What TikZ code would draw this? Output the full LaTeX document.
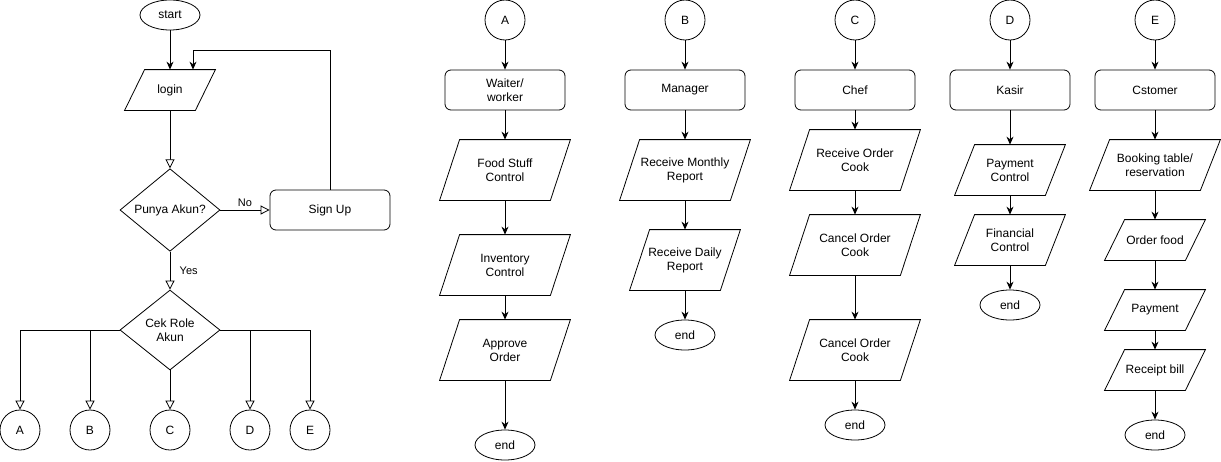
\documentclass[tikz,border=0pt]{standalone}
\usepackage{fontspec}
\setmainfont{Liberation Sans}
\usetikzlibrary{arrows.meta,shapes.geometric}

\begin{document}
\begin{tikzpicture}[x=1pt,y=-1pt,line width=0.8pt,
	font=\fontsize{12}{14}\selectfont,
	term/.style={draw,ellipse,minimum width=60pt,minimum height=30pt,inner sep=0pt},
	conn/.style={draw,circle,minimum size=40pt,inner sep=0pt},
	proc/.style={draw,rounded corners=6pt,minimum width=120pt,minimum height=40pt,inner sep=0pt,align=center},
	dec/.style={draw,diamond,minimum width=100pt,minimum height=80pt,inner sep=0pt,align=center},
	io/.style 2 args={minimum width=#1-20pt,minimum height=#2,inner sep=0pt,align=center,
		append after command={\pgfextra{\draw ([xshift=-10pt]\tikzlastnode.south west)
			-- ([xshift=-10pt]\tikzlastnode.south east) -- ([xshift=10pt]\tikzlastnode.north east)
			-- ([xshift=10pt]\tikzlastnode.north west) -- cycle;}}},
	flow/.style={-{Stealth[length=8pt,width=7pt]}},
	hollow/.style={-{Triangle[open,length=9pt,width=9pt,fill=white]}},
	lbl/.style={font=\fontsize{11}{13}\selectfont}]
	\useasboundingbox (0,0) rectangle (1221,461);

	% login part
	\node (start) [term] at (170,15) {start};
	\node (login) [io={90pt}{40pt}] at (170,90) {login};
	\node (akun) [dec] at (170,210) {Punya Akun?};
	\node (signup) [proc] at (330,210) {Sign Up};
	\node (role) [dec] at (170,330) {Cek Role\\Akun};
	\node (ra) [conn] at (20,430) {A};
	\node (rb) [conn] at (90,430) {B};
	\node (rc) [conn] at (170,430) {C};
	\node (rd) [conn] at (250,430) {D};
	\node (re) [conn] at (310,430) {E};
	\coordinate (back) at (193,50);

	\draw [flow] (start) -- (login);
	\draw [flow] (signup) |- (back) -- (back |- login.north);
	\draw [hollow] (login) -- (akun);
	\draw [hollow] (akun) -- node [lbl,above] {No} (signup);
	\draw [hollow] (akun) -- node [lbl,right,xshift=6pt] {Yes} (role);
	\draw [hollow] (role.west) -| (ra);
	\draw [hollow] (role.west) -| (rb);
	\draw [hollow] (role) -- (rc);
	\draw [hollow] (role.east) -| (rd);
	\draw [hollow] (role.east) -| (re);

	% A
	\node (ha) [conn] at (505,20) {A};
	\node (waiter) [proc] at (505,90) {Waiter/\\worker};
	\node (food) [io={130pt}{60pt}] at (505,170) {Food Stuff\\Control};
	\node (inv) [io={130pt}{60pt}] at (505,265) {Inventory\\Control};
	\node (approve) [io={130pt}{60pt}] at (505,350) {Approve\\Order};
	\node (enda) [term] at (505,445) {end};

	\draw [flow] (ha) -- (waiter);
	\draw [flow] (waiter) -- (food);
	\draw [flow] (food) -- (inv);
	\draw [flow] (inv) -- (approve);
	\draw [flow] (approve) -- (enda);

	% B
	\node (hb) [conn] at (685,20) {B};
	\node (manager) [proc] at (685,90) {Manager};
	\node (monthly) [io={130pt}{60pt}] at (685,170) {Receive Monthly\\Report};
	\node (daily) [io={110pt}{60pt}] at (685,260) {Receive Daily\\Report};
	\node (endb) [term] at (685,335) {end};

	\draw [flow] (hb) -- (manager);
	\draw [flow] (manager) -- (monthly);
	\draw [flow] (monthly) -- (daily);
	\draw [flow] (daily) -- (endb);

	% C
	\node (hc) [conn] at (855,20) {C};
	\node (chef) [proc] at (855,90) {Chef};
	\node (receive) [io={130pt}{60pt}] at (855,160) {Receive Order\\Cook};
	\node (cancel1) [io={130pt}{60pt}] at (855,245) {Cancel Order\\Cook};
	\node (cancel2) [io={130pt}{60pt}] at (855,350) {Cancel Order\\Cook};
	\node (endc) [term] at (855,425) {end};

	\draw [flow] (hc) -- (chef);
	\draw [flow] (chef) -- (receive);
	\draw [flow] (receive) -- (cancel1);
	\draw [flow] (cancel1) -- (cancel2);
	\draw [flow] (cancel2) -- (endc);

	% D
	\node (hd) [conn] at (1010,20) {D};
	\node (kasir) [proc] at (1010,90) {Kasir};
	\node (payctl) [io={110pt}{50pt}] at (1010,170) {Payment\\Control};
	\node (fin) [io={110pt}{50pt}] at (1010,240) {Financial\\Control};
	\node (endd) [term] at (1010,305) {end};

	\draw [flow] (hd) -- (kasir);
	\draw [flow] (kasir) -- (payctl);
	\draw [flow] (payctl) -- (fin);
	\draw [flow] (fin) -- (endd);

	% E
	\node (he) [conn] at (1155,20) {E};
	\node (cust) [proc] at (1155,90) {Cstomer};
	\node (booking) [io={130pt}{50pt}] at (1155,165) {Booking table/\\reservation};
	\node (order) [io={100pt}{40pt}] at (1155,240) {Order food};
	\node (pay) [io={100pt}{40pt}] at (1155,310) {Payment};
	\node (bill) [io={100pt}{40pt}] at (1155,370) {Receipt bill};
	\node (ende) [term] at (1155,435) {end};

	\draw [flow] (he) -- (cust);
	\draw [flow] (cust) -- (booking);
	\draw [flow] (booking) -- (order);
	\draw [flow] (order) -- (pay);
	\draw [flow] (pay) -- (bill);
	\draw [flow] (bill) -- (ende);
\end{tikzpicture}
\end{document}
